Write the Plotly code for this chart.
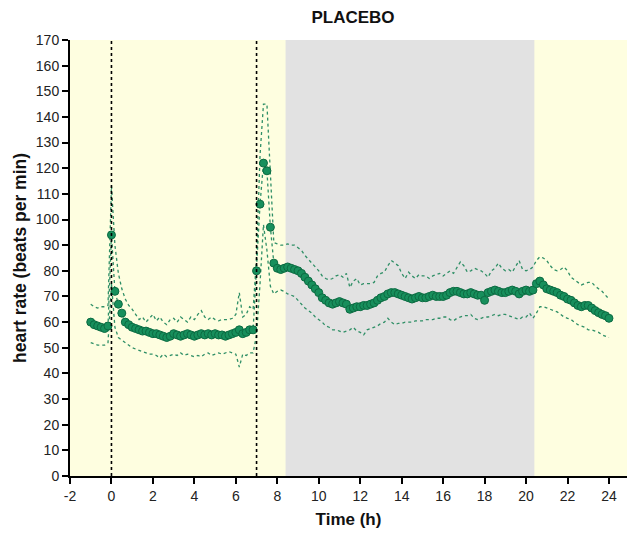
import numpy as np
import plotly.graph_objects as go

# time grid: every 10 min from -1 h to 24 h
time_h = np.round(np.arange(-1.0, 24.0 + 1e-9, 1.0 / 6.0), 3)

mean_hr = [
    60, 59, 58.5, 58, 57.5, 58.5,
    94, 72, 67, 63.5, 60, 59,
    58, 57.5, 57, 56.5, 56.5, 56,
    55.5, 55.5, 55, 54.5, 54, 54.5,
    55.5, 55, 54.5, 55, 55.5, 55,
    54.5, 55, 55.5, 55, 55.5, 55,
    55.5, 55, 55, 54.5, 55, 55.5,
    56, 57, 55.5, 56, 57, 57,
    80, 106, 122, 119, 97, 83,
    81, 80.5, 81, 81.5, 81, 80.5,
    80, 79, 77.5, 76, 74.5, 73,
    71.5, 69.5, 68.5, 67.5, 67, 67.5,
    68, 67.5, 67, 65, 65.5, 66,
    66, 66.5, 66.5, 67, 67.5, 68.5,
    69.5, 70, 71, 71.5, 71.5, 71,
    70.5, 70, 69.5, 69, 69.5, 70,
    69.5, 69.5, 70, 70.5, 70, 70,
    70, 70.5, 71.5, 72, 72, 71.5,
    71, 71, 71.5, 71, 70.5, 70.5,
    68.5, 71.5, 72, 72.5, 72, 71.5,
    71.5, 72, 72.5, 72, 71, 72,
    72.5, 72, 72.5, 75, 76, 74.5,
    73, 72.5, 72, 71.5, 70.5, 70,
    69, 68.5, 67.5, 66.5, 66, 66.5,
    66.5, 65.5, 64.5, 63.7, 63, 62.5,
    61.5,
]

upper_hr = [
    67, 66, 65.5, 66, 66, 66.5,
    113, 90, 79, 73, 69, 66.5,
    65, 63, 61, 62, 60, 61.5,
    63, 60.5, 62, 60, 59, 61,
    61.5, 60, 62, 61, 60, 62,
    61, 63, 64.5, 62, 61, 62,
    61, 60.5, 61, 61, 61, 61.5,
    63, 71.5, 62, 63, 66, 65,
    85, 125, 145, 145, 115, 91,
    90.5, 90, 90, 90.5, 90, 90,
    89, 88, 86, 84.5, 83, 81.5,
    80, 78, 77, 76.5, 77, 78,
    78.5, 77.5, 79, 73.5, 76, 77,
    74.5, 75, 75, 75, 75.5, 78,
    79, 79.5, 82, 84, 83, 82,
    79, 77, 79.5, 78, 77, 78.5,
    78, 78, 77, 78, 78.5, 79,
    78, 79, 80, 79, 81, 83.5,
    82, 79.5, 80, 81, 80.5, 80,
    79, 77.5, 80, 81, 83, 81,
    80, 80.5, 79.5, 82, 84, 80.5,
    80, 80.5, 81.5, 84, 85.5, 85,
    84, 82, 80.5, 80, 80.5, 81.5,
    80, 77.5, 76.5, 75.5, 74.5, 75,
    75.5, 75.5, 74, 73, 72, 70.5,
    69,
]

lower_hr = [
    52, 51.5, 51, 51, 51, 52,
    75, 58, 54, 53, 52, 51,
    50, 49.5, 49, 48.5, 48, 47.5,
    47.5, 47, 46, 47.5, 46.5, 47,
    47.5, 47, 48, 47, 47.5, 47,
    46.5, 47, 46.5, 47.5, 48, 47,
    47.5, 48, 47.5, 48, 48.5, 48,
    47.5, 42.5, 47.5, 47, 48, 48,
    55, 75, 98, 88, 74, 71,
    72, 72.5, 72, 71, 70.5, 70,
    68.5, 67, 65.5, 64.5, 63.5, 62,
    61, 60, 58.5, 58, 57, 57,
    56.5, 56, 56.5, 57, 58, 56.5,
    56, 55, 57, 57.5, 58, 58.5,
    59.5, 60, 61.5, 60, 59, 59.5,
    59.5, 60, 60, 60, 60.5, 60.5,
    60.5, 61, 61, 61, 61.5, 61.5,
    62, 62, 61, 60.5, 61.5, 62,
    62.5, 62.5, 63, 61.5, 61, 61.5,
    62, 62, 62.5, 63, 62.5, 63,
    63, 62.5, 62, 61.5, 61, 62,
    62, 63.5, 61.5, 63.5, 66, 66,
    65.5, 65, 64.5, 64, 63, 62,
    61.5, 61, 60, 59, 58.5, 58,
    57, 57, 56.5, 56, 55, 54.5,
    54,
]

x_ticks = list(range(-2, 25, 2))
y_ticks = list(range(0, 171, 10))
night_start, night_end = 8.4, 20.4
dose_times = [0, 7]

GREEN = "#178f5c"
LINE_GREEN = "#2f8f66"
FONT = "Liberation Sans, Arial, Helvetica, sans-serif"

fig = go.Figure()

fig.add_shape(type="rect", xref="x", yref="y", x0=night_start, x1=night_end,
              y0=0, y1=170, fillcolor="#e2e2e2", line_width=0, layer="below")
for t in dose_times:
    fig.add_shape(type="line", xref="x", yref="y", x0=t, x1=t, y0=0, y1=170,
                  line=dict(color="black", width=1.6, dash="dot"))

fig.add_trace(go.Scatter(x=time_h, y=upper_hr, mode="lines",
                         line=dict(color=LINE_GREEN, width=1.3, dash="dot"),
                         showlegend=False))
fig.add_trace(go.Scatter(x=time_h, y=lower_hr, mode="lines",
                         line=dict(color=LINE_GREEN, width=1.3, dash="dot"),
                         showlegend=False))
fig.add_trace(go.Scatter(x=time_h, y=mean_hr, mode="lines+markers",
                         line=dict(color=LINE_GREEN, width=1.3, dash="dot"),
                         marker=dict(size=8, color=GREEN,
                                     line=dict(color="#0c6b42", width=1)),
                         showlegend=False))

fig.update_layout(
    width=627, height=534,
    margin=dict(l=70, r=0, t=40, b=58, autoexpand=False),
    paper_bgcolor="white",
    plot_bgcolor="#fefee0",
    font=dict(family=FONT, size=14, color="#222"),
    title=dict(text="<b>PLACEBO</b>", x=353 / 627, xanchor="center",
               y=1 - 17 / 534, yanchor="middle", yref="container",
               font=dict(size=17, color="#111")),
)
fig.update_xaxes(range=[-2, 24.87], tickvals=x_ticks, ticktext=[str(v) for v in x_ticks],
                 showline=True, linecolor="black", linewidth=2,
                 ticks="outside", ticklen=6, tickwidth=1.5, tickcolor="black",
                 showgrid=False, zeroline=False, automargin=False,
                 title=dict(text="<b>Time (h)</b>", font=dict(size=17, color="#111"),
                            standoff=10))
fig.update_yaxes(range=[0, 170], tickvals=y_ticks,
                 showline=True, linecolor="black", linewidth=2,
                 ticks="outside", ticklen=6, tickwidth=1.5, tickcolor="black",
                 showgrid=False, zeroline=False, automargin=False,
                 title=dict(text="<b>heart rate (beats per min)</b>",
                            font=dict(size=17.5, color="#111"), standoff=5))

fig.write_html("out.html", config={"displayModeBar": False},
               post_script="document.body.style.margin='0';document.body.style.overflow='hidden';")
